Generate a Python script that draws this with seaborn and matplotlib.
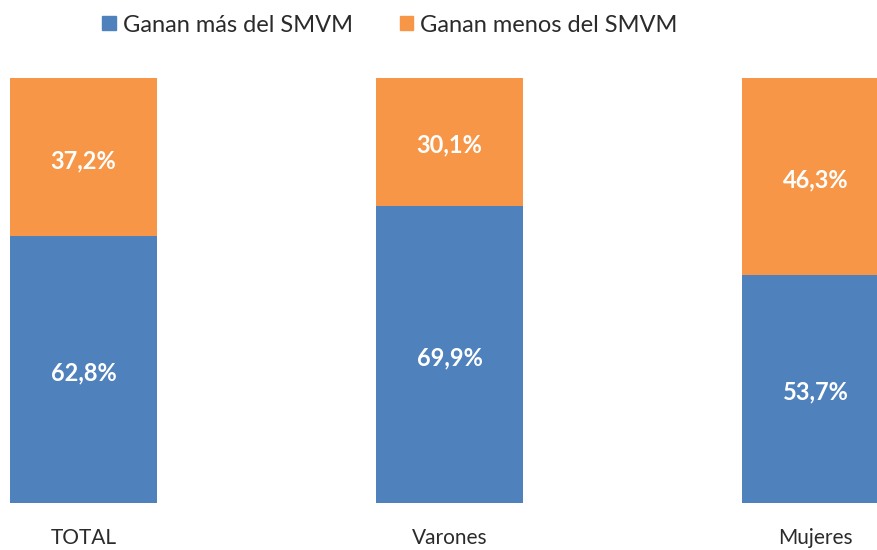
import pandas as pd
import seaborn as sns
import matplotlib.pyplot as plt
from matplotlib.patches import Patch

categorias = ["TOTAL", "Varones", "Mujeres"]
ganan_mas = [62.8, 69.9, 53.7]
ganan_menos = [37.2, 30.1, 46.3]
series = ["Ganan más del SMVM", "Ganan menos del SMVM"]

azul = "#4F81BD"
naranja = "#F79646"
texto = "#2b2b2b"

df = pd.DataFrame({"cat": categorias, "mas": ganan_mas, "menos": ganan_menos})
df["total"] = df["mas"] + df["menos"]

sns.set_style("white")
plt.rcParams["font.family"] = ["Lato", "DejaVu Sans"]

fig = plt.figure(figsize=(8.77, 5.5), dpi=100)
ax = fig.add_axes([0, 47 / 550, 1, 425 / 550])

# barras apiladas: total en naranja, parte inferior en azul
sns.barplot(data=df, x="cat", y="total", color=naranja, width=0.40,
            saturation=1, linewidth=0, ax=ax)
sns.barplot(data=df, x="cat", y="mas", color=azul, width=0.40,
            saturation=1, linewidth=0, ax=ax)

for i, row in df.iterrows():
    ax.text(i, row["mas"] / 2 - 0.8, f"{row['mas']:.1f}%".replace(".", ","),
            ha="center", va="center", color="white", fontsize=17,
            fontweight="bold")
    ax.text(i, row["mas"] + row["menos"] / 2 - 0.8,
            f"{row['menos']:.1f}%".replace(".", ","),
            ha="center", va="center", color="white", fontsize=17,
            fontweight="bold")

ax.set_xlim(-83.5 / 366, (877 - 83.5) / 366)
ax.set_ylim(0, 100)
ax.set_yticks([])
ax.set_xlabel("")
ax.set_ylabel("")
ax.tick_params(axis="x", length=0, pad=18, labelsize=15, labelcolor=texto)
sns.despine(ax=ax, left=True, bottom=True)

handles = [Patch(color=azul), Patch(color=naranja)]
fig.legend(handles, series, loc="center", bbox_to_anchor=(390 / 877, 1 - 25 / 550),
           ncol=2, frameon=False, fontsize=17, handlelength=0.56,
           handleheight=0.56, handletextpad=0.3, columnspacing=2.0,
           labelcolor=texto)

fig.savefig("out.png", dpi=100)
